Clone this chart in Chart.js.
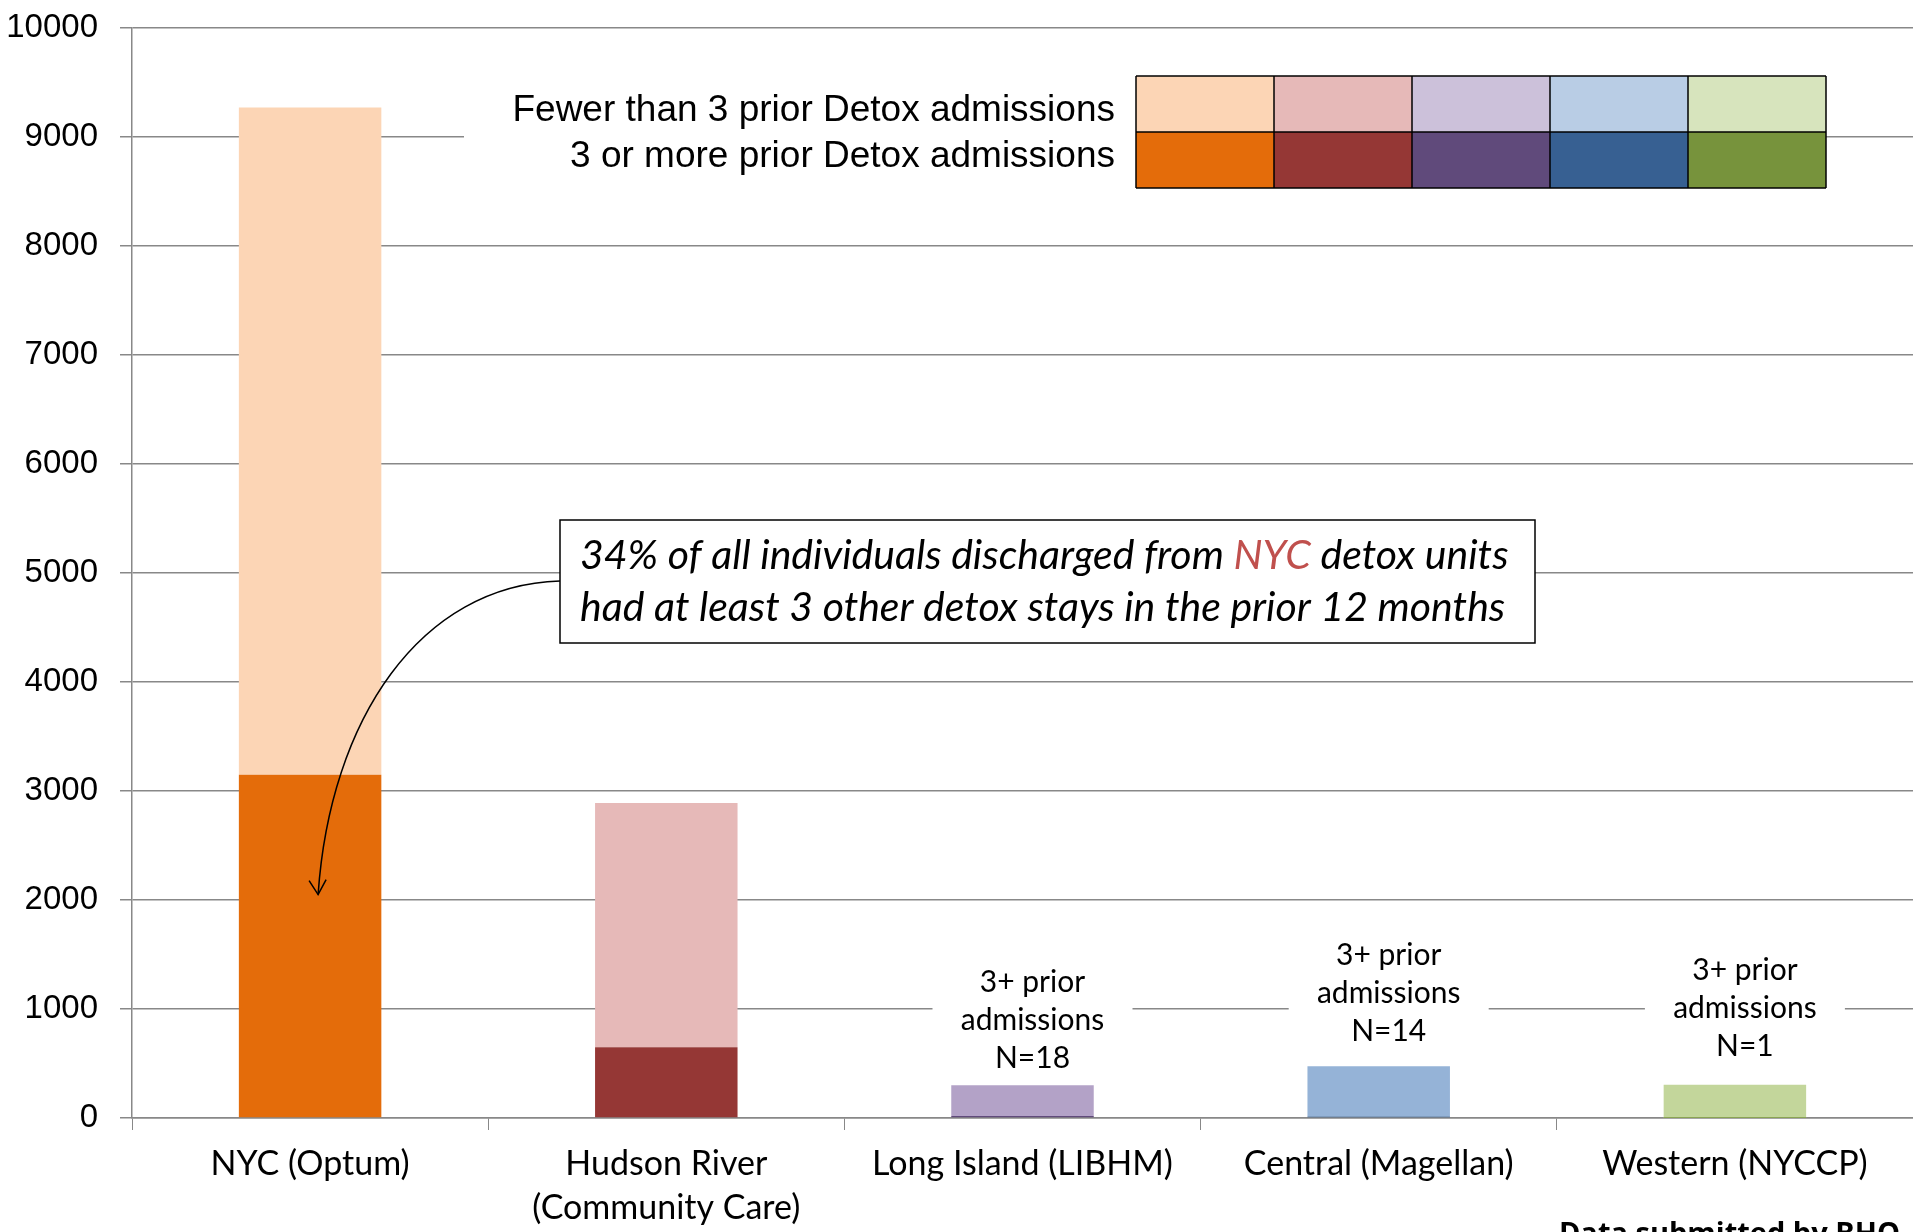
<!DOCTYPE html>
<html><head><meta charset="utf-8">
<script src="https://cdn.jsdelivr.net/npm/chart.js@4"></script>
<style>html,body{margin:0;background:#fff}#c{display:block}</style>
</head><body>
<canvas id="c" width="1913" height="1232"></canvas>
<script>
const categories = ['NYC (Optum)', ['Hudson River', '(Community Care)'], 'Long Island (LIBHM)', 'Central (Magellan)', 'Western (NYCCP)'];
const threeOrMore = [3150, 650, 18, 14, 1];
const fewerThan3 = [6120, 2240, 282, 461, 304];
const yTicks = [0, 1000, 2000, 3000, 4000, 5000, 6000, 7000, 8000, 9000, 10000];
const smallLabels = [null, null, 'N=18', 'N=14', 'N=1'];

const darkColors = ['#e46c0a', '#953735', '#604a7b', '#376092', '#77933c'];
const lightLegend = ['#fcd5b5', '#e6b9b8', '#ccc1da', '#b9cde5', '#d7e4bd'];
const lightBars = ['#fcd5b5', '#e6b9b8', '#b3a2c7', '#95b3d7', '#c3d69b'];

const overlay = {
  id: 'overlay',
  afterDraw(chart) {
    const ctx = chart.ctx, x = chart.scales.x, y = chart.scales.y;
    ctx.save();
    // legend
    ctx.fillStyle = '#fff';
    ctx.fillRect(464, 86, 672, 90);
    ctx.fillStyle = '#000';
    ctx.font = '37px "Liberation Sans", Arial';
    ctx.textAlign = 'right'; ctx.textBaseline = 'middle';
    ctx.fillText('Fewer than 3 prior Detox admissions', 1115, 111);
    ctx.fillText('3 or more prior Detox admissions', 1115, 157);
    const gx = 1136, cw = 138, rh = 56;
    for (let i = 0; i < 5; i++) {
      ctx.fillStyle = lightLegend[i]; ctx.fillRect(gx + i * cw, 76, cw, rh);
      ctx.fillStyle = darkColors[i]; ctx.fillRect(gx + i * cw, 76 + rh, cw, rh);
    }
    ctx.strokeStyle = '#000'; ctx.lineWidth = 1.5;
    for (let i = 0; i <= 5; i++) { ctx.beginPath(); ctx.moveTo(gx + i * cw, 76); ctx.lineTo(gx + i * cw, 76 + 2 * rh); ctx.stroke(); }
    for (let j = 0; j <= 2; j++) { ctx.beginPath(); ctx.moveTo(gx, 76 + j * rh); ctx.lineTo(gx + 5 * cw, 76 + j * rh); ctx.stroke(); }
    // small-bar labels
    const offs = [0, 0, 27, 35, 38];
    ctx.font = '30px Lato, "Open Sans", sans-serif';
    ctx.textAlign = 'center';
    smallLabels.forEach((lab, i) => {
      if (!lab) return;
      const cx = x.getPixelForValue(i) + 10;
      const top = y.getPixelForValue(threeOrMore[i] + fewerThan3[i]);
      const last = top - offs[i];
      ctx.fillStyle = '#fff';
      ctx.fillRect(cx - 100, last - 98, 200, 116);
      ctx.fillStyle = '#000';
      ['3+ prior', 'admissions', lab].forEach((t, k) => ctx.fillText(t, cx, last - (2 - k) * 38));
    });
    // callout box
    const bx = 560, by = 520, bw = 975, bh = 123;
    ctx.fillStyle = '#fff'; ctx.fillRect(bx, by, bw, bh);
    ctx.strokeStyle = '#000'; ctx.lineWidth = 1.5; ctx.strokeRect(bx, by, bw, bh);
    ctx.font = 'italic 41px Lato, "Open Sans", sans-serif';
    ctx.textAlign = 'left'; ctx.fillStyle = '#000';
    const l1a = '34% of all individuals discharged from ', l1b = 'NYC', l1c = ' detox units';
    let tx = 580;
    ctx.fillText(l1a, tx, 556); tx += ctx.measureText(l1a).width;
    ctx.fillStyle = '#c0504d'; ctx.fillText(l1b, tx, 556); tx += ctx.measureText(l1b).width;
    ctx.fillStyle = '#000'; ctx.fillText(l1c, tx, 556);
    ctx.fillText('had at least 3 other detox stays in the prior 12 months', 580, 608);
    // arrow
    const ex = x.getPixelForValue(0) + 8, ey = y.getPixelForValue(2050);
    ctx.beginPath(); ctx.lineWidth = 1.5;
    ctx.moveTo(bx, 581);
    ctx.bezierCurveTo(420, 585, 330, 720, ex, ey);
    ctx.stroke();
    ctx.beginPath();
    ctx.moveTo(ex - 9, ey - 14); ctx.lineTo(ex, ey); ctx.lineTo(ex + 8, ey - 15); ctx.stroke();
    // footer
    ctx.font = 'bold 29px "Open Sans", sans-serif';
    ctx.textAlign = 'right'; ctx.textBaseline = 'alphabetic';
    ctx.fillText('Data submitted by BHO', 1900, 1243);
    ctx.restore();
  }
};

new Chart(document.getElementById('c'), {
  type: 'bar',
  data: {
    labels: categories,
    datasets: [
      { label: '3 or more prior Detox admissions', data: threeOrMore, backgroundColor: darkColors },
      { label: 'Fewer than 3 prior Detox admissions', data: fewerThan3, backgroundColor: lightBars }
    ]
  },
  options: {
    responsive: false, animation: false,
    layout: { padding: { top: 28, right: 0, left: 0, bottom: 0 } },
    plugins: { legend: { display: false }, tooltip: { enabled: false } },
    datasets: { bar: { barPercentage: 0.4, categoryPercentage: 1 } },
    scales: {
      x: {
        stacked: true,
        afterFit: s => { s.height = 114; },
        grid: { offset: true, drawOnChartArea: false, tickLength: 12, color: '#888' },
        border: { color: '#888', width: 1.5 },
        ticks: { color: '#000', font: { family: 'Lato, "Open Sans", sans-serif', size: 34, lineHeight: 1.3 }, maxRotation: 0, autoSkip: false, padding: 12 }
      },
      y: {
        stacked: true, min: 0, max: 10000,
        afterFit: s => { s.width = 132; s.paddingTop = 0; s.paddingBottom = 0; },
        afterBuildTicks: s => { s.ticks = yTicks.map(v => ({ value: v })); },
        grid: { color: '#888', lineWidth: 1.5, tickLength: 12 },
        border: { color: '#888', width: 1.5 },
        ticks: { color: '#000', font: { family: '"Liberation Sans", Arial', size: 33 }, padding: 22, callback: v => String(v) }
      }
    }
  },
  plugins: [overlay]
});
</script>
</body></html>
